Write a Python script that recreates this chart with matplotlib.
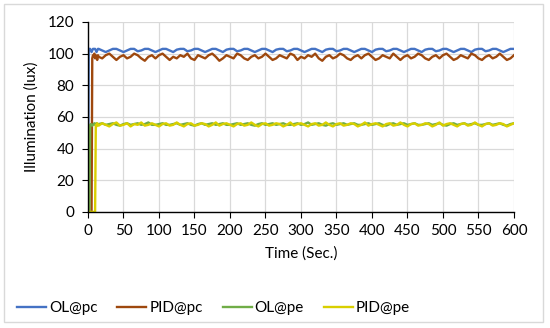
import numpy as np
import matplotlib
matplotlib.use('Agg')
from matplotlib import pyplot as plt
from matplotlib.patches import Rectangle

# time axis: 1 s steps during start-up, then 5 s steps
time = np.concatenate([np.arange(0, 15), np.arange(15, 601, 5)])

ol_pc_start = [0, 103, 103, 103, 102, 101, 102, 103, 103, 103, 103, 102, 101, 102, 103]
ol_pc = [
    103, 102, 101, 102, 103, 103, 102, 101, 102, 103,
    103, 101.5, 102, 103, 103, 102, 101, 102, 103, 103,
    102, 101, 102.5, 103, 103, 101.5, 102, 103, 103, 102,
    101, 102, 103, 103, 102, 101, 102.5, 103, 103, 101.5,
    102, 103, 103, 102, 101, 102, 103, 103, 102, 101,
    102.5, 103, 103, 101.5, 102, 103, 103, 102, 101, 102,
    103, 103, 102, 101, 102.5, 103, 103, 101.5, 102, 103,
    103, 102, 101, 102, 103, 103, 102, 101, 102.5, 103,
    103, 101.5, 102, 103, 103, 102, 101, 102, 103, 103,
    102, 101, 102.5, 103, 103, 101.5, 102, 103, 103, 102,
    101, 102, 103, 103, 102, 101, 102.5, 103, 103, 101.5,
    102, 103, 103, 102, 101, 102, 103, 103,
]

pid_pc_start = [0, 0, 0, 0, 0, 0, 97, 99, 98, 100, 97, 99, 98, 96, 99]
pid_pc = [
    98, 97, 99, 100, 98, 96, 98, 99, 97, 98,
    100, 99, 97, 95.5, 98, 99, 97, 99, 100, 98,
    96, 98, 97, 99, 98, 100, 97, 96, 99, 98,
    97, 99, 100, 98, 95.5, 97, 99, 98, 97, 100,
    99, 97, 96, 98, 99, 97, 98, 100, 98, 96,
    97, 99, 98, 97, 100, 99, 96, 98, 97, 99,
    98, 100, 97, 95.5, 98, 99, 97, 98, 100, 99,
    97, 96, 98, 99, 97, 99, 100, 98, 96, 97,
    99, 98, 97, 100, 98, 96, 98, 99, 97, 98,
    100, 99, 97, 96, 98, 99, 97, 99, 100, 98,
    96, 97, 99, 98, 97, 100, 99, 97, 96, 98,
    99, 97, 98, 100, 98, 96, 97, 99,
]

ol_pe_start = [0, 0, 0, 55, 55.5, 55, 54.5, 55, 55.5, 56, 55, 55.5, 56, 55, 55.5]
ol_pe = [
    55.5, 56, 55, 55.5, 56, 55, 54.5, 55.5, 56, 55,
    55.5, 56, 55, 55.5, 56.5, 55, 55, 55.5, 56, 55,
    55, 55.5, 56, 55, 55.5, 56, 55, 54.5, 55.5, 56,
    55, 55.5, 56, 55, 55.5, 56, 55, 55, 55.5, 56,
    55, 55.5, 56, 55, 54.5, 55.5, 56, 55, 55.5, 56,
    55, 55.5, 56, 55, 55, 55.5, 56, 55, 55.5, 56.5,
    55, 55.5, 56, 55, 54.5, 55.5, 56, 55, 55.5, 56,
    55, 55.5, 56, 55, 55, 55.5, 56, 55, 55.5, 56,
    55, 54.5, 55.5, 56, 55, 55.5, 56, 55, 55.5, 56,
    55, 55, 55.5, 56, 55, 55.5, 56, 55, 54.5, 55.5,
    56, 55, 55.5, 56, 55, 55.5, 56, 55, 55, 55.5,
    56, 55, 55.5, 56, 55, 54.5, 55.5, 56,
]

pid_pe_start = [0, 0, 0, 0, 0, 0, 0, 0, 0, 0, 0, 55, 54, 56, 55]
pid_pe = [
    54.5, 56, 55, 54, 55.5, 56.5, 54.5, 55, 56, 54,
    55.5, 55, 56.5, 54.5, 55, 56, 55, 54, 55.5, 56,
    54.5, 55, 56.5, 55, 54, 55.5, 56, 54.5, 55, 56,
    55.5, 54, 55, 56.5, 54.5, 55.5, 56, 55, 54, 55.5,
    56, 54.5, 55, 56.5, 55, 54, 55.5, 56, 54.5, 55,
    56, 55.5, 54, 55, 56.5, 54.5, 55.5, 56, 55, 54,
    55.5, 56, 54.5, 55, 56.5, 55, 54, 55.5, 56, 54.5,
    55, 56, 55.5, 54, 55, 56.5, 54.5, 55.5, 56, 55,
    54, 55.5, 56, 54.5, 55, 56.5, 55, 54, 55.5, 56,
    54.5, 55, 56, 55.5, 54, 55, 56.5, 54.5, 55.5, 56,
    55, 54, 55.5, 56, 54.5, 55, 56.5, 55, 54, 55.5,
    56, 54.5, 55, 56, 55.5, 54, 55, 56,
]

series = [
    ('OL@pc', ol_pc_start + ol_pc, '#4472C4'),
    ('PID@pc', pid_pc_start + pid_pc, '#9E480E'),
    ('OL@pe', ol_pe_start + ol_pe, '#70AD47'),
    ('PID@pe', pid_pe_start + pid_pe, '#D9CF00'),
]

plt.rcParams['font.family'] = ['Lato', 'DejaVu Sans']

fig = plt.figure(figsize=(5.5, 3.28), dpi=100)
ax = fig.add_axes([0.16, 0.354, 0.7745, 0.579])

for name, vals, col in series:
    ax.plot(time, vals, color=col, lw=1.7, label=name)

ax.set_xlim(0, 600)
ax.set_ylim(0, 120)
ax.set_xticks(np.arange(0, 601, 50))
ax.set_yticks(np.arange(0, 121, 20))
ax.grid(True, color='#d9d9d9', lw=0.9)
ax.set_axisbelow(True)
for s in ['top', 'right']:
    ax.spines[s].set_visible(False)
for s in ['left', 'bottom']:
    ax.spines[s].set_color('black')
    ax.spines[s].set_linewidth(1.0)
ax.tick_params(direction='out', length=4, labelsize=11, colors='black')
ax.tick_params(axis='x', pad=5)
ax.tick_params(axis='y', pad=6)
ax.set_xlabel('Time (Sec.)', fontsize=11, labelpad=6)
ax.set_ylabel('Illumination (lux)', fontsize=11, labelpad=6)

fig.legend(loc='center', bbox_to_anchor=(0.388, 0.061), ncol=4, frameon=False,
           fontsize=11, handlelength=1.9, handletextpad=0.2, columnspacing=1.3)

fig.patches.append(Rectangle((4 / 550, 6 / 328), 539 / 550, 318 / 328,
                             transform=fig.transFigure, fill=False,
                             edgecolor='#d9d9d9', lw=1.0))

fig.savefig('out.png', dpi=100)
